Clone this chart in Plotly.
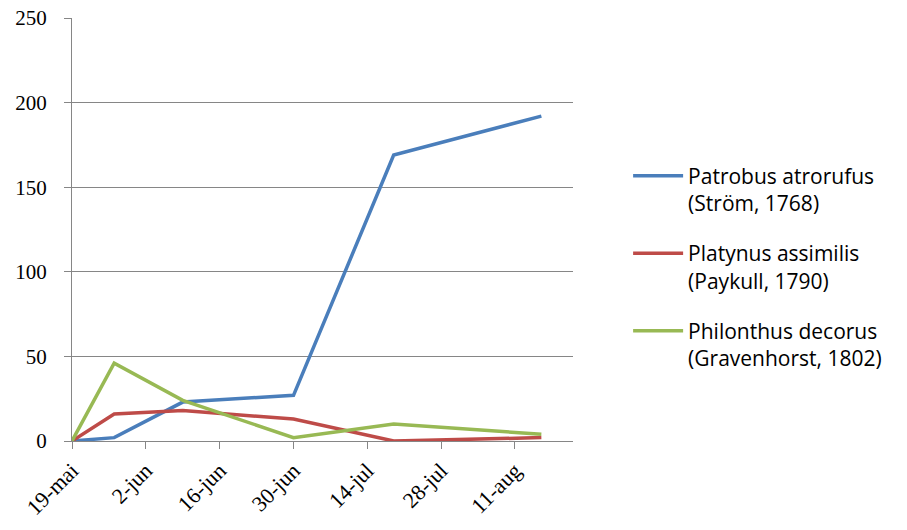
import plotly.graph_objects as go
from datetime import date, timedelta

dates = ["2010-05-19", "2010-05-27", "2010-06-09", "2010-06-30", "2010-07-19", "2010-08-16"]
series_names = [
    "Patrobus atrorufus<br>(Ström, 1768)",
    "Platynus assimilis<br>(Paykull, 1790)",
    "Philonthus decorus<br>(Gravenhorst, 1802)",
]
patrobus = [0, 2, 23, 27, 169, 192]
platynus = [0, 16, 18, 13, 0, 2]
philonthus = [0, 46, 24, 2, 10, 4]
tick_dates = ["2010-05-19", "2010-06-02", "2010-06-16", "2010-06-30", "2010-07-14", "2010-07-28", "2010-08-11"]
tick_labels = ["19-mai", "2-jun", "16-jun", "30-jun", "14-jul", "28-jul", "11-aug"]
y_ticks = [0, 50, 100, 150, 200, 250]

colors = ["#4A7EBB", "#BE4B48", "#98B954"]

fig = go.Figure()
for i, (name, vals) in enumerate(zip(series_names, [patrobus, platynus, philonthus])):
    fig.add_trace(go.Scatter(
        x=dates, y=vals, name=name, mode="lines",
        line=dict(color=colors[i], width=3.5),
        legendgroup=f"g{i}",
    ))

start = date(2010, 5, 19)

fig.update_layout(
    width=907, height=530,
    margin=dict(l=72, r=334, t=18, b=89),
    paper_bgcolor="white", plot_bgcolor="white",
    showlegend=True,
    legend=dict(
        x=1.11, y=0.675, xanchor="left", yanchor="top",
        font=dict(family="Open Sans", size=21, color="#000000"),
        tracegroupgap=20, valign="top", itemwidth=50,
    ),
    xaxis=dict(
        type="date", automargin=False,
        range=[start.isoformat(), (start + timedelta(days=95.2)).isoformat()],
        tickmode="array", tickvals=tick_dates, ticktext=tick_labels,
        tickangle=-45, ticks="outside", ticklen=7, tickcolor="#868686",
        showline=True, linecolor="#868686", linewidth=1,
        showgrid=False, zeroline=False,
        tickfont=dict(family="Liberation Serif", size=22, color="#000000"),
    ),
    yaxis=dict(
        range=[0, 250], tickvals=y_ticks, automargin=False,
        ticks="outside", ticklen=7, tickcolor="#868686",
        showline=True, linecolor="#868686", linewidth=1,
        showgrid=True, gridcolor="#868686", gridwidth=1,
        zeroline=False, ticklabelstandoff=13,
        tickfont=dict(family="Liberation Serif", size=21, color="#000000"),
    ),
)

fig.write_html("out.html")
